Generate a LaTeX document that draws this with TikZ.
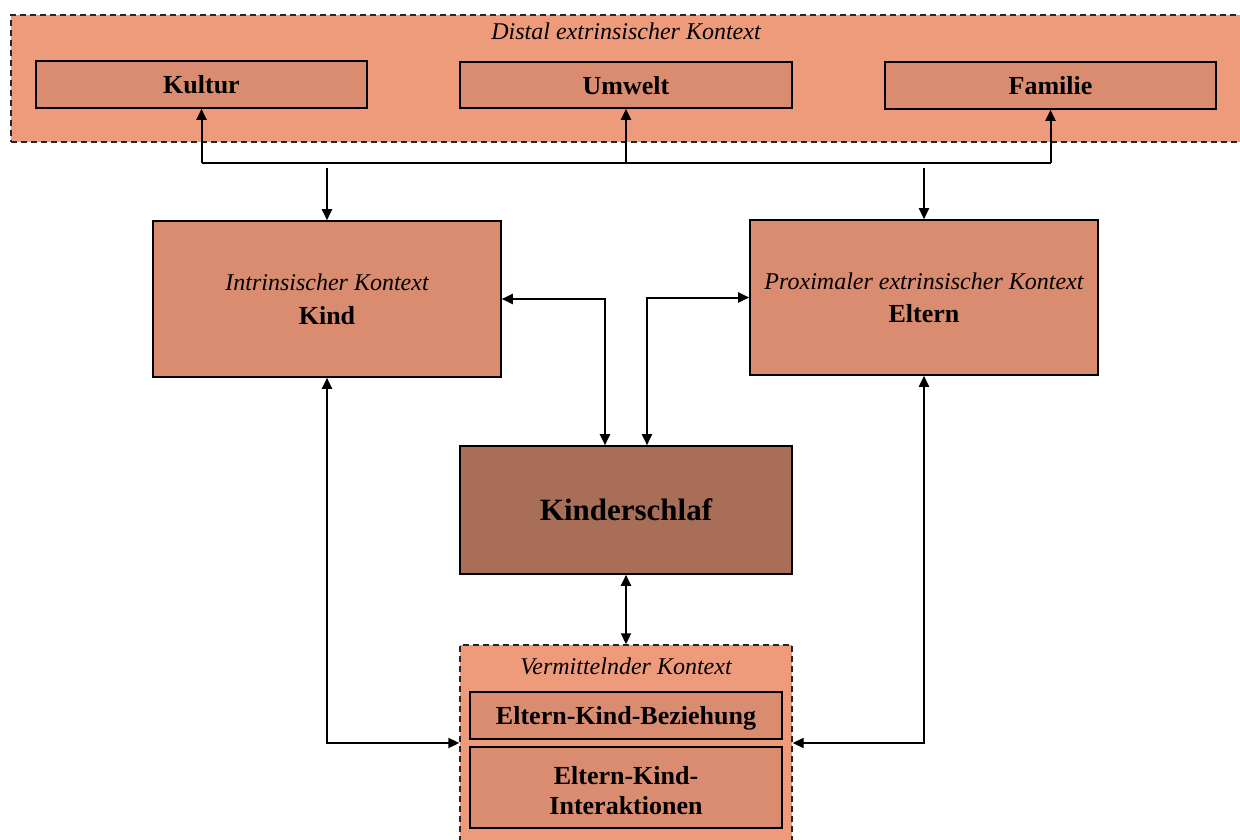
\documentclass[tikz,border=0pt]{standalone}
\usepackage{fontspec}
\setmainfont{Liberation Serif}
\usetikzlibrary{arrows.meta,calc}
\definecolor{outerfill}{HTML}{EE9B7B}
\definecolor{boxfill}{HTML}{D98C70}
\definecolor{corefill}{HTML}{A96E57}
\begin{document}
\begin{tikzpicture}[x=1pt,y=-1pt,
  boxstyle/.style={draw=black, line width=1.6pt, fill=boxfill, inner sep=0pt, align=center,
    font=\fontsize{26}{31}\selectfont\bfseries},
  ctxstyle/.style={draw=black!85, line width=1.4pt, dash pattern=on 6pt off 4pt, fill=outerfill, inner sep=0pt},
  itlabel/.style={font=\fontsize{24}{28}\selectfont\itshape, inner sep=0pt},
  tip/.tip={Triangle[length=11pt,width=10pt]},
  arr/.style={line width=2pt, -tip},
  darr/.style={line width=2pt, tip-tip}
]
\clip (0,0) rectangle (1240,839);
\fill[white] (0,0) rectangle (1240,839);
% distal context
\node[ctxstyle, minimum width=1239pt, minimum height=127pt] (dist) at (630.5,78.5) {};
\node[itlabel] (distlabel) at (626,31) {Distal extrinsischer Kontext};
\node[boxstyle, text depth=0pt, minimum width=331pt, minimum height=47pt] (kultur) at (201.5,84.5) {Kultur};
\node[boxstyle, text depth=0pt, minimum width=332pt, minimum height=46pt] (umwelt) at (626,85) {Umwelt};
\node[boxstyle, text depth=0pt, minimum width=331pt, minimum height=47pt] (familie) at (1050.5,85.5) {Familie};
% middle
\node[boxstyle, minimum width=348pt, minimum height=156pt] (kind) at (327,299)
  {{\fontsize{24}{28}\selectfont\mdseries\itshape Intrinsischer Kontext}\\[3pt]Kind};
\node[boxstyle, minimum width=348pt, minimum height=155pt] (eltern) at (924,297.5)
  {{\fontsize{24}{28}\selectfont\mdseries\itshape Proximaler extrinsischer Kontext}\\[2pt]Eltern};
\node[boxstyle, fill=corefill, minimum width=332pt, minimum height=128pt,
  font=\fontsize{31}{36}\selectfont\bfseries] (schlaf) at (626,510) {Kinderschlaf};
% mediating context
\node[ctxstyle, minimum width=332pt, minimum height=215pt] (verm) at (626,752.5) {};
\node[itlabel] (vermlabel) at (626,666) {Vermittelnder Kontext};
\node[boxstyle, text depth=0pt, minimum width=312pt, minimum height=47pt] (ekb) at (626,715.5) {Eltern-Kind-Beziehung};
\node[boxstyle, minimum width=312pt, minimum height=81pt,
  label={[font=\fontsize{26}{30}\selectfont\bfseries, align=center, inner sep=0pt, yshift=-3pt]center:Eltern-Kind-\\Interaktionen}] (eki) at (626,787.5) {};
% bus
\coordinate (busL) at (kultur.south |- 0,163);
\coordinate (busR) at (familie.south |- 0,163);
\coordinate (kindin) at (kind.north |- 0,168);
\coordinate (eltin) at (eltern.north |- 0,168);
\coordinate (vmid) at ($(ekb.south)!0.5!(eki.north)$);
\draw[line width=2pt] (busL) -- (busR);
\draw[arr] (busL) -- (kultur.south);
\draw[arr] (umwelt.south |- busL) -- (umwelt.south);
\draw[arr] (busR) -- (familie.south);
\draw[arr] (kindin) -- (kind.north);
\draw[arr] (eltin) -- (eltern.north);
% to Kinderschlaf
\draw[darr] (kind.east) -| ([xshift=-21pt]schlaf.north);
\draw[darr] (eltern.west) -| ([xshift=21pt]schlaf.north);
\draw[darr] (schlaf.south) -- (verm.north);
% to mediating context
\draw[darr] (kind.south) |- (verm.west |- vmid);
\draw[darr] (eltern.south) |- (verm.east |- vmid);
\end{tikzpicture}
\end{document}
